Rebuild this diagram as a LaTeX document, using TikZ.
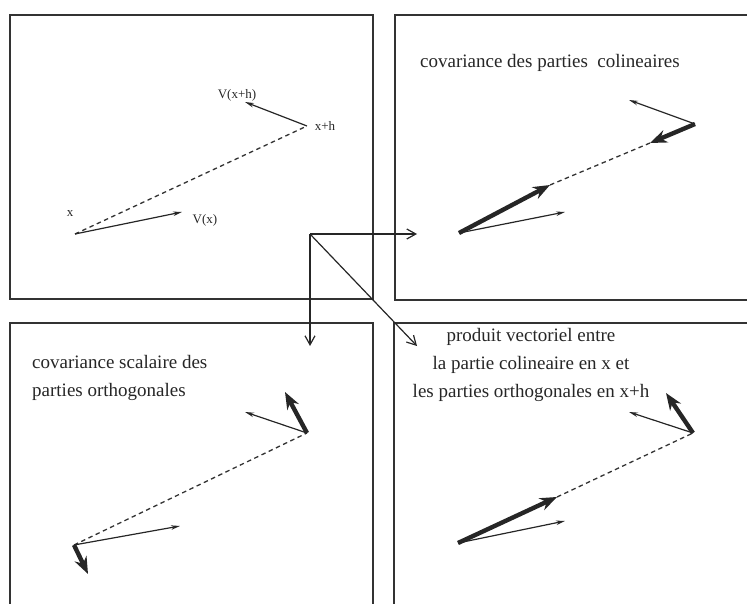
\documentclass[tikz,border=0pt]{standalone}
\usepackage{fontspec}
\setmainfont{Liberation Serif}
\usetikzlibrary{arrows.meta,positioning}

\begin{document}
\begin{tikzpicture}[x=1pt, y=-1pt,
  panel/.style={draw=black!80, line width=1.2pt},
  link/.style={draw=black!85, line width=1.2pt, -{Straight Barb[length=9pt,width=10pt]}},
  vec/.style={draw=black!85, line width=1.2pt, -{Stealth[length=9pt,width=4.5pt]}},
  part/.style={draw=black!85, line width=4.4pt, -{Stealth[length=17pt,width=13pt]}},
  sep/.style={draw=black!80, line width=1.3pt, dash pattern=on 4.5pt off 3.5pt},
  lbl/.style={font=\fontsize{13}{15}\selectfont, text=black!85, inner sep=0pt},
  ttl/.style={font=\fontsize{19}{28}\selectfont, text=black!85, inner sep=0pt}
]
\useasboundingbox (0,0) rectangle (747,604);

%% the four frames
\draw[panel] (10,15) rectangle (373,299);
\draw[panel] (747,15) -- (395,15) -- (395,300) -- (747,300);
\draw[panel] (10,604) -- (10,323) -- (373,323) -- (373,604);
\draw[panel] (747,323) -- (394,323) -- (394,604);

%% top left: the two points and their vectors
\coordinate (xa) at (75,234);
\coordinate (xha) at (307,126);
\coordinate (vxa) at (182,212);
\coordinate (vxha) at (245,102);
\draw[sep] (xa) -- (xha);
\draw[vec] (xa) -- (vxa);
\draw[vec] (xha) -- (vxha);
\node[lbl] (labx) at (70,214) {x};
\node[lbl] (labvx) at (205,220) {V(x)};
\node[lbl] (labxh) at (325,126) {x+h};
\node[lbl] (labvxh) at (237,95) {V(x+h)};

%% top right: colinear parts
\node[ttl, anchor=base west] (ttlb) at (420,68) {covariance des parties \ colineaires};
\coordinate (xb) at (459,233);
\coordinate (xhb) at (695,124);
\coordinate (vxb) at (565,212);
\coordinate (vxhb) at (629,100);
\coordinate (cxb) at (550,185);
\coordinate (cxhb) at (650,143);
\draw[sep] (cxb) -- (cxhb);
\draw[vec] (xb) -- (vxb);
\draw[vec] (xhb) -- (vxhb);
\draw[part] (xb) -- (cxb);
\draw[part] (xhb) -- (cxhb);

%% bottom left: orthogonal parts
\node[ttl, anchor=north west, align=left] (ttlc) at (32,355) {covariance scalaire des\\parties orthogonales};
\coordinate (xc) at (74,545);
\coordinate (xhc) at (307,433);
\coordinate (vxc) at (180,526);
\coordinate (vxhc) at (245,412);
\coordinate (oxc) at (88,574);
\coordinate (oxhc) at (285,392);
\draw[sep] (xc) -- (xhc);
\draw[vec] (xc) -- (vxc);
\draw[vec] (xhc) -- (vxhc);
\draw[part] (xc) -- (oxc);
\draw[part] (xhc) -- (oxhc);

%% bottom right: colinear at x, orthogonal at x+h
\node[ttl, anchor=north, align=center] (ttld) at (531,328) {produit vectoriel entre\\la partie colineaire en x et\\les parties orthogonales en x+h};
\coordinate (xd) at (458,543);
\coordinate (xhd) at (693,433);
\coordinate (vxd) at (565,521);
\coordinate (vxhd) at (629,412);
\coordinate (cxd) at (557,497);
\coordinate (oxhd) at (666,393);
\draw[sep] (cxd) -- (xhd);
\draw[vec] (xd) -- (vxd);
\draw[vec] (xhd) -- (vxhd);
\draw[part] (xd) -- (cxd);
\draw[part] (xhd) -- (oxhd);

%% links from the first frame to the three others
\coordinate (hub) at (310,234);
\coordinate (tob) at (417,234);
\coordinate (toc) at (310,346);
\coordinate (tod) at (417,346);
\draw[link] (hub) -- (tob);
\draw[link] (hub) -- (toc);
\draw[link] (hub) -- (tod);
\end{tikzpicture}
\end{document}
